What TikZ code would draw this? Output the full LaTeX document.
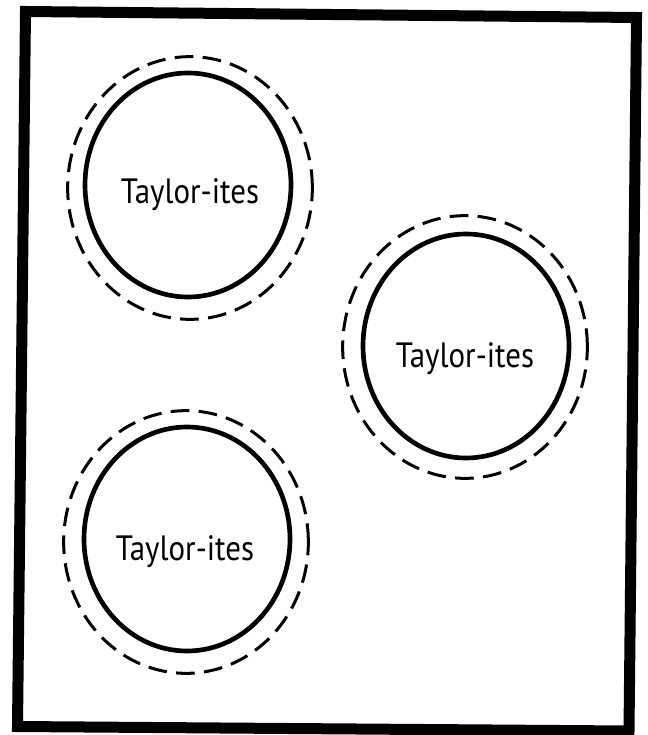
\documentclass[tikz,border=0pt]{standalone}
\usepackage{fontspec}
\setsansfont{PT Sans}[FakeStretch=0.88]
\usetikzlibrary{shapes.geometric}

\begin{document}
\begin{tikzpicture}[
    x=0.03cm, y=-0.03cm,
    font=\sffamily\fontsize{30}{36}\selectfont,
    frame/.style  ={draw, line width=0.33cm, line join=miter},
    group/.style  ={ellipse, draw, line width=0.14cm, inner sep=0pt,
                    minimum width=6.18cm, minimum height=6.72cm},
    ring/.style   ={ellipse, draw, line width=0.09cm, inner sep=0pt,
                    dash pattern=on 0.56cm off 0.28cm,
                    minimum width=7.34cm, minimum height=7.88cm},
    tag/.style    ={inner sep=0pt}
]
\useasboundingbox (0,0) rectangle (647,735);

% Outer frame (scanned slightly askew)
\coordinate (tl) at (25.5,11.5);
\coordinate (tr) at (636.5,17.5);
\coordinate (br) at (629,731);
\coordinate (bl) at (17.5,726.5);
\draw[frame] (tl) -- (tr) -- (br) -- (bl) -- cycle;

% Top-left group
\node[group] (g1) at (188,185) {};
\node[ring]  (r1) at (190,188) {};
\node[tag]   (t1) at (190,195) {Taylor-ites};

% Right group
\node[group] (g2) at (466,346) {};
\node[ring]  (r2) at (465,347) {};
\node[tag]   (t2) at (465,359) {Taylor-ites};

% Bottom-left group
\node[group] (g3) at (187,539) {};
\node[ring]  (r3) at (186,542) {};
\node[tag]   (t3) at (185,552) {Taylor-ites};

\end{tikzpicture}
\end{document}
